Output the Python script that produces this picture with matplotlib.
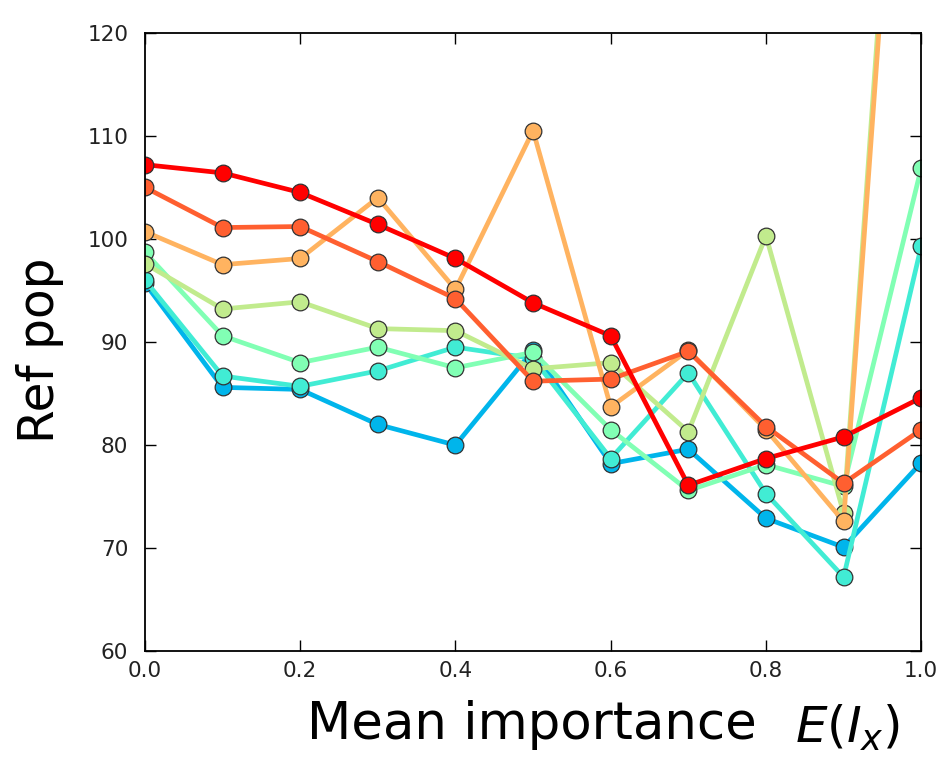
import numpy as np
import matplotlib
matplotlib.use("Agg")
import matplotlib.pyplot as plt

# mean importance values on x
importance = [0.0, 0.1, 0.2, 0.3, 0.4, 0.5, 0.6, 0.7, 0.8, 0.9, 1.0]

# one series per setting (blue -> red)
pop_blue = [95.7, 85.6, 85.4, 82.0, 80.0, 89.2, 78.2, 79.6, 72.9, 70.1, 78.3]
pop_turq = [96.0, 86.7, 85.7, 87.2, 89.5, 88.4, 78.7, 87.0, 75.3, 67.2, 99.3]
pop_mint = [98.7, 90.6, 88.0, 89.5, 87.5, 89.0, 81.5, 75.6, 78.1, 76.0, 106.9]
pop_lgreen = [97.6, 93.2, 93.9, 91.3, 91.1, 87.4, 88.0, 81.3, 100.3, 73.4, 180.0]
pop_lorange = [100.7, 97.5, 98.1, 104.0, 95.1, 110.5, 83.7, 89.2, 81.5, 72.6, 177.0]
pop_orange = [105.0, 101.1, 101.2, 97.8, 94.2, 86.2, 86.4, 89.1, 81.8, 76.3, 81.5]
pop_red = [107.2, 106.4, 104.5, 101.4, 98.1, 93.8, 90.6, 76.1, 78.7, 80.8, 84.6]

series = [pop_blue, pop_turq, pop_mint, pop_lgreen, pop_lorange, pop_orange, pop_red]
colors = plt.cm.rainbow(np.linspace(0.25, 1.0, len(series)))

plt.rcParams['mathtext.fontset'] = 'dejavusans'

fig = plt.figure(figsize=(9.41, 7.60), dpi=100)
ax = fig.add_axes([0.154, 0.143, 0.825, 0.814])

for vals, c in zip(series, colors):
    ax.plot(importance, vals, color=c, linewidth=3.4, marker='o', markersize=12,
            markerfacecolor=c, markeredgecolor='#333333', markeredgewidth=0.9)

ax.set_xlim(0, 1.0)
ax.set_ylim(60, 120)
ax.set_xticks([0.0, 0.2, 0.4, 0.6, 0.8, 1.0])
ax.set_xticklabels(['0.0', '0.2', '0.4', '0.6', '0.8', '1.0'])
ax.set_yticks(range(60, 121, 10))
ax.tick_params(direction='in', top=True, right=True, length=8, width=1,
               labelsize=15.5, labelcolor='#222222')
ax.tick_params(axis='y', pad=12)
ax.tick_params(axis='x', pad=7)
for sp in ax.spines.values():
    sp.set_linewidth(1.3)

# axis titles placed on the figure like the original
fig.text(0.042, 0.539, 'Ref pop', fontsize=35, rotation=90, ha='center', va='center')
fig.text(0.565, 0.027, 'Mean importance', fontsize=37, ha='center', va='baseline')
fig.text(0.845, 0.022, r'$\mathit{E(I_x)}$', fontsize=36, ha='left', va='baseline')

fig.savefig('out.png', dpi=100)
